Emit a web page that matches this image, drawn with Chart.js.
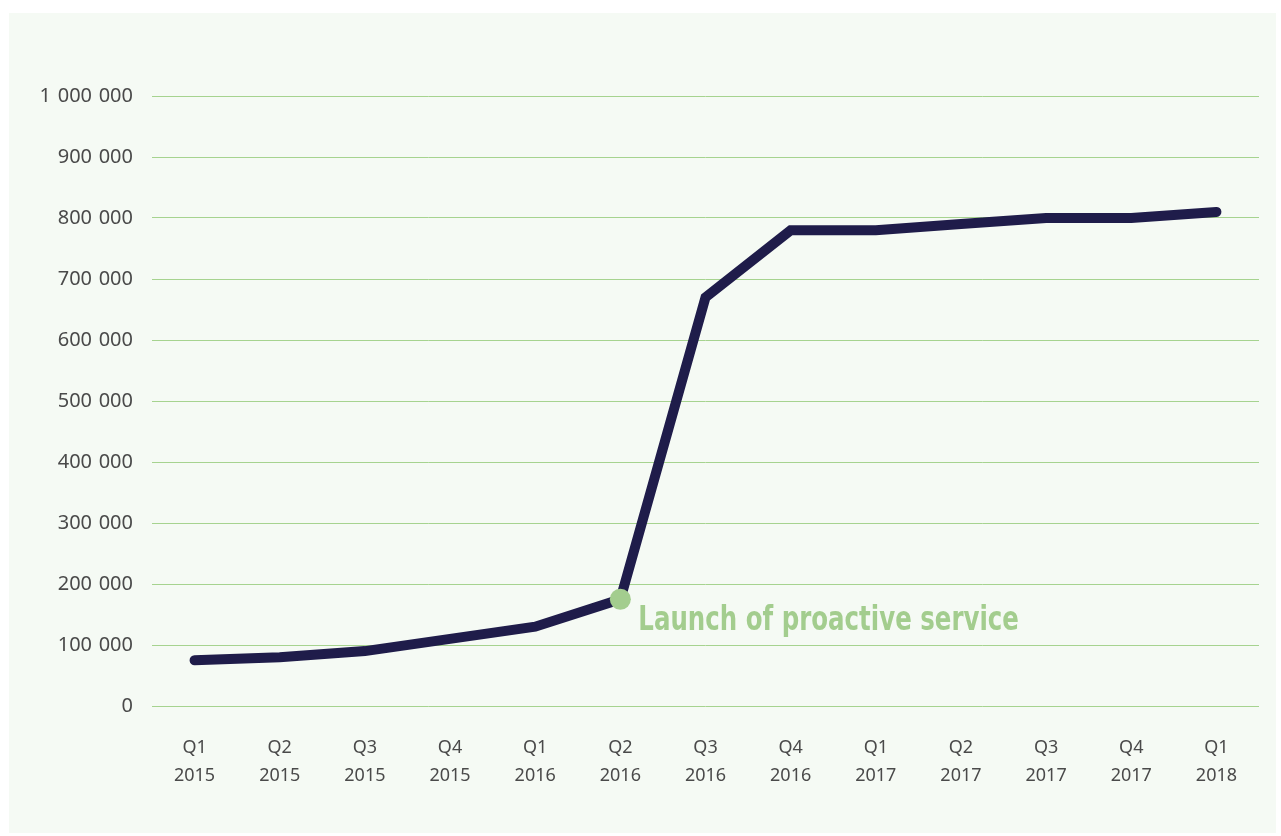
<!DOCTYPE html>
<html>
<head>
<meta charset="utf-8">
<script src="https://cdn.jsdelivr.net/npm/chart.js@4"></script>
<style>
  html, body { margin: 0; padding: 0; background: #ffffff; }
  #panel {
    position: absolute; left: 9px; top: 13px;
    width: 1267px; height: 820px;
    background: #f5faf4;
  }
</style>
</head>
<body>
<div id="panel"><canvas id="growth_chart"></canvas></div>
<script>
const quarters = ["Q1", "Q2", "Q3", "Q4", "Q1", "Q2", "Q3", "Q4", "Q1", "Q2", "Q3", "Q4", "Q1"];
const years = ["2015", "2015", "2015", "2015", "2016", "2016", "2016", "2016", "2017", "2017", "2017", "2017", "2018"];
const customers = [75000, 80000, 90000, 110000, 130000, 175000, 670000, 780000, 780000, 790000, 800000, 800000, 810000];
const yTicks = [0, 100000, 200000, 300000, 400000, 500000, 600000, 700000, 800000, 900000, 1000000];
const launchIndex = 5;
const launchText = "Launch of proactive service";

const labels = quarters.map((q, i) => [q, years[i]]);

// green marker + caption at the launch quarter
const launchMarker = {
    id: "launchMarker",
    afterDatasetsDraw(chart) {
        const ctx = chart.ctx;
        const x = chart.scales.x.getPixelForValue(launchIndex);
        const y = chart.scales.y.getPixelForValue(customers[launchIndex]);
        ctx.save();
        ctx.fillStyle = "#a3cd8e";
        ctx.beginPath();
        ctx.arc(x, y, 10.5, 0, Math.PI * 2);
        ctx.fill();
        // condensed look: squeeze the text horizontally
        ctx.translate(x + 18, y + 31);
        ctx.scale(0.8, 1);
        ctx.font = "bold 34px 'DejaVu Sans Condensed', 'DejaVu Sans', sans-serif";
        ctx.textBaseline = "alphabetic";
        ctx.fillText(launchText, 0, 0);
        ctx.restore();
    }
};

new Chart(document.getElementById("growth_chart"), {
    type: "line",
    data: {
        labels: labels,
        datasets: [{
            label: "Customers",
            data: customers,
            borderColor: "#1f1c4a",
            borderWidth: 10,
            borderCapStyle: "round",
            borderJoinStyle: "miter",
            pointRadius: 0,
            tension: 0
        }]
    },
    options: {
        responsive: true,
        maintainAspectRatio: false,
        animation: false,
        layout: { padding: { top: 83, right: 17, bottom: 27, left: 0 } },
        plugins: {
            legend: { display: false },
            tooltip: { enabled: false }
        },
        scales: {
            x: {
                offset: true,
                grid: { display: false, drawTicks: false },
                border: { display: false },
                ticks: {
                    padding: 27,
                    color: "#4a4a4a",
                    font: { family: "'Noto Sans', sans-serif", size: 18, lineHeight: 1.6 },
                    maxRotation: 0,
                    autoSkip: false
                },
                afterFit(scale) { scale.height = 100; }
            },
            y: {
                min: 0,
                max: 1000000,
                afterBuildTicks(scale) { scale.ticks = yTicks.map(v => ({ value: v })); },
                grid: { color: "#a6d38f", lineWidth: 1, drawTicks: false },
                border: { display: false },
                ticks: {
                    padding: 19,
                    color: "#4a4a4a",
                    font: { family: "'Noto Sans', sans-serif", size: 20 },
                    callback: v => v.toString().replace(/\B(?=(\d{3})+(?!\d))/g, "\u2004")
                },
                afterFit(scale) { scale.width = 143; }
            }
        }
    },
    plugins: [launchMarker]
});
</script>
</body>
</html>
